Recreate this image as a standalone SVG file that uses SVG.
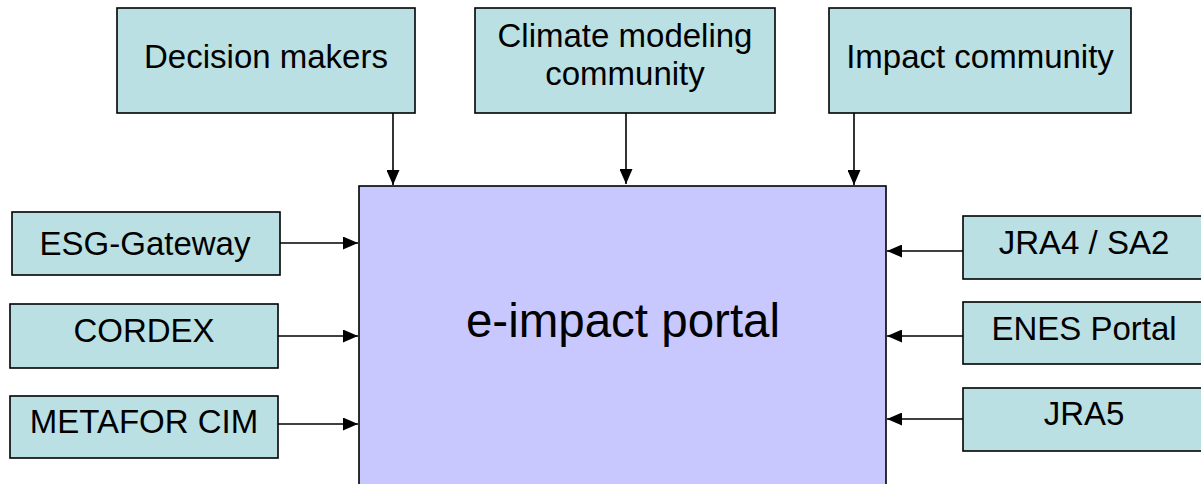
<svg xmlns="http://www.w3.org/2000/svg" width="1201" height="484" viewBox="0 0 1201 484">
<defs>
<marker id="ah" markerUnits="userSpaceOnUse" markerWidth="15" markerHeight="13" refX="15" refY="6.5" orient="auto">
<path d="M0,0 L15,6.5 L0,13 z" fill="#000"/>
</marker>
<style>
.box{fill:#BBE0E3;stroke:#000;stroke-width:1.6}
.main{fill:#C8C8FF;stroke:#000;stroke-width:1.6}
.t{font-family:"Liberation Sans",Arial,sans-serif;font-size:33px;fill:#000;text-anchor:middle}
.big{font-family:"Liberation Sans",Arial,sans-serif;font-size:47.5px;fill:#000;text-anchor:middle}
.c{stroke:#000;stroke-width:1.6;fill:none;marker-end:url(#ah)}
</style>
</defs>
<rect width="1201" height="484" fill="#fff"/>
<g id="portal">
<rect class="main" x="359" y="186" width="527" height="310"/>
<text class="big" x="623" y="337">e-impact portal</text>
</g>
<g id="decision-makers">
<rect class="box" x="117" y="8" width="298" height="105"/>
<text class="t" x="266" y="68">Decision makers</text>
</g>
<g id="climate-modeling">
<rect class="box" x="475" y="8" width="300" height="105"/>
<text class="t" x="625" y="47">Climate modeling</text>
<text class="t" x="625" y="85">community</text>
</g>
<g id="impact-community">
<rect class="box" x="829" y="8" width="302" height="105"/>
<text class="t" x="980" y="68">Impact community</text>
</g>
<g id="esg-gateway">
<rect class="box" x="12" y="212" width="268" height="63"/>
<text class="t" x="145" y="255">ESG-Gateway</text>
</g>
<g id="cordex">
<rect class="box" x="10" y="304" width="268" height="64"/>
<text class="t" x="144" y="342">CORDEX</text>
</g>
<g id="metafor-cim">
<rect class="box" x="10" y="396" width="268" height="62"/>
<text class="t" x="144" y="433">METAFOR CIM</text>
</g>
<g id="jra4-sa2">
<rect class="box" x="963" y="216" width="245" height="63"/>
<text class="t" x="1084" y="254">JRA4 / SA2</text>
</g>
<g id="enes-portal">
<rect class="box" x="963" y="302" width="245" height="62"/>
<text class="t" x="1084" y="340">ENES Portal</text>
</g>
<g id="jra5">
<rect class="box" x="963" y="388" width="245" height="63"/>
<text class="t" x="1084" y="425">JRA5</text>
</g>
<g id="connectors">
<line class="c" x1="393" y1="113" x2="393" y2="185"/>
<line class="c" x1="626" y1="113" x2="626" y2="184"/>
<line class="c" x1="854" y1="113" x2="854" y2="185"/>
<line class="c" x1="280" y1="243" x2="358" y2="243"/>
<line class="c" x1="278" y1="336" x2="358" y2="336"/>
<line class="c" x1="278" y1="424" x2="358" y2="424"/>
<line class="c" x1="963" y1="251" x2="887" y2="251"/>
<line class="c" x1="963" y1="336" x2="887" y2="336"/>
<line class="c" x1="963" y1="419" x2="887" y2="419"/>
</g>
</svg>
